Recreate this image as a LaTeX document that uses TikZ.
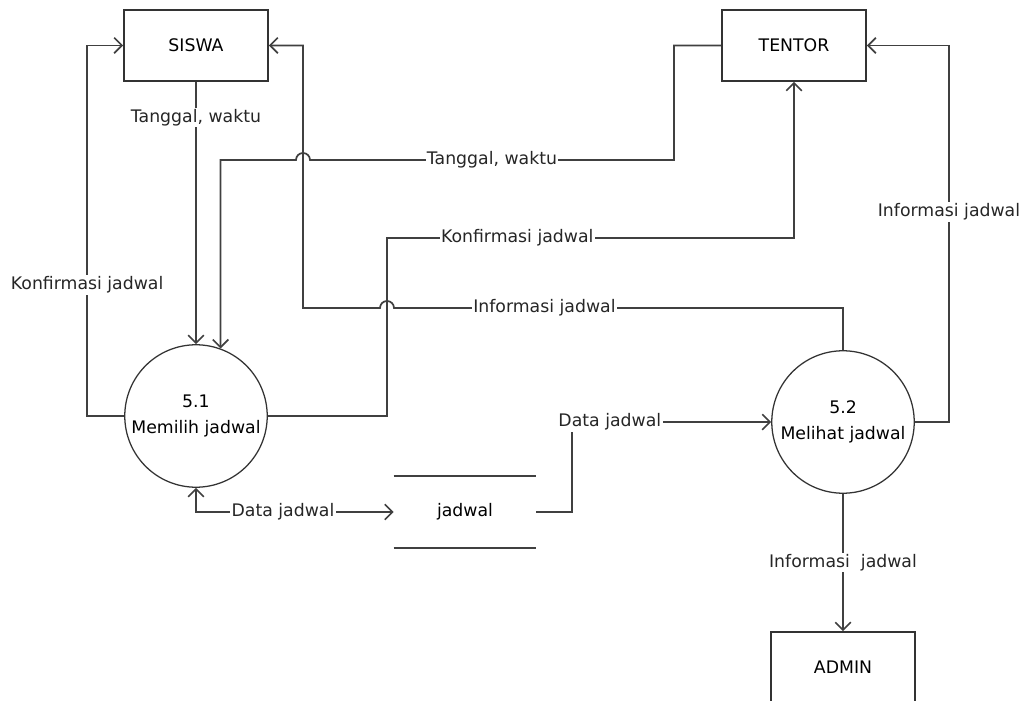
\documentclass[tikz,border=0pt]{standalone}
\usepackage{fontspec}
\setmainfont{DejaVu Sans}
\usetikzlibrary{arrows.meta,positioning,calc}

\begin{document}
\begin{tikzpicture}[
    x=0.025cm, y=-0.025cm,
    font=\fontsize{12.3}{14.5}\selectfont,
    entity/.style={
        rectangle, draw=black!80, line width=1.2pt,
        minimum width=3.6cm, minimum height=1.775cm, inner sep=0pt
    },
    process/.style={
        circle, draw=black!80, line width=0.9pt,
        minimum size=3.56cm, align=center, inner sep=0pt
    },
    datastore/.style={
        rectangle, minimum width=3.55cm, minimum height=1.8cm, inner sep=0pt
    },
    flow/.style={
        -{Straight Barb[length=5.5pt, width=11pt]}, line width=1.2pt, draw=black!75
    },
    flowBoth/.style={
        {Straight Barb[length=5.5pt, width=11pt]}-{Straight Barb[length=5.5pt, width=11pt]},
        line width=1.2pt, draw=black!75
    },
    flowLabel/.style={
        fill=white, inner sep=1pt, text=black!85
    }
]
\useasboundingbox (0,0) rectangle (1024,701);

% External entities
\node[entity] (siswa) at (196, 45.5) {SISWA};
\node[entity] (tentor) at (794, 45.5) {TENTOR};
\node[entity] (admin) at (843, 667.5) {ADMIN};

% Processes
\node[process] (p51) at (196, 416) {5.1\\[4pt]Memilih jadwal};
\node[process] (p52) at (843, 422) {5.2\\[4pt]Melihat jadwal};

% Data store
\node[datastore] (store) at (465, 512) {jadwal};
\draw[line width=1.2pt, draw=black!75] (store.north west) -- (store.north east);
\draw[line width=1.2pt, draw=black!75] (store.south west) -- (store.south east);

% Siswa -> 5.1
\draw[flow] (siswa.south) -- node[flowLabel, pos=0.136] {Tanggal, waktu} (p51.north);

% 5.1 -> Siswa
\draw[flow] (p51.west) -- ++(-37, 0) |- node[flowLabel, pos=0.177] {Konfirmasi jadwal} (siswa.west);

% Tentor -> 5.1 (hop over the siswa line)
\draw[flow] (tentor.west) -| (674, 160)
    -- node[flowLabel, pos=0.5] {Tanggal, waktu} (310, 160)
    arc (0:-180:7) -| (p51.70);

% 5.1 -> Tentor
\draw[flow] (p51.east) -- (387, 416) -- (387, 238)
    -| node[flowLabel, pos=0.16] {Konfirmasi jadwal} (tentor.south);

% 5.2 -> Siswa (hop over the tentor line)
\draw[flow] (p52.north) -- (843, 308)
    -- node[flowLabel, pos=0.665] {Informasi jadwal} (394, 308)
    arc (0:-180:7) -| (303, 45.5) -- (siswa.east);

% 5.2 -> Tentor
\draw[flow] (p52.east) -- (949, 422) |- node[flowLabel, pos=0.279] {Informasi jadwal} (tentor.east);

% 5.1 <-> jadwal
\draw[flowBoth] (p51.south) |- node[flowLabel, pos=0.72] {Data jadwal} (store.west);

% jadwal -> 5.2
\draw[flow] (store.east) -- (572, 512) |- node[flowLabel, pos=0.595] {Data jadwal} (p52.west);

% 5.2 -> Admin
\draw[flow] (p52.south) -- node[flowLabel] {Informasi\ \ jadwal} (admin.north);

\end{tikzpicture}
\end{document}
